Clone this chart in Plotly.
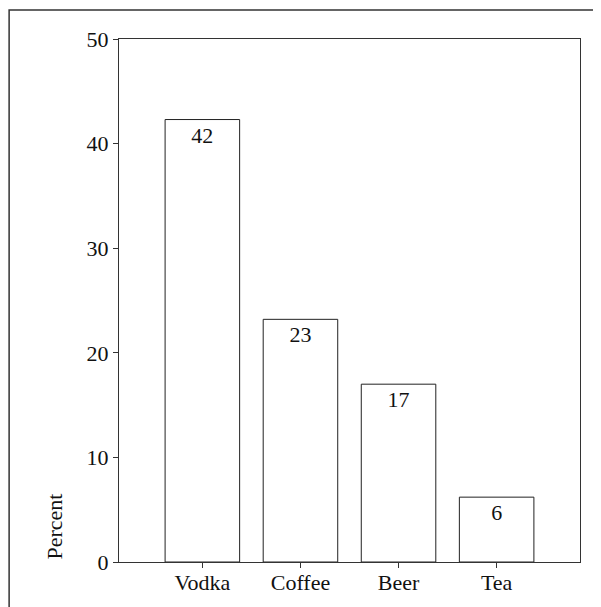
import plotly.graph_objects as go

drinks = ["Vodka", "Coffee", "Beer", "Tea"]
percent = [42.3, 23.2, 17.0, 6.2]
bar_labels = ["42", "23", "17", "6"]

W, H = 601, 607
OFF = 8  # page body margin shifts the figure
L, T = 119 - OFF, 39 - OFF
R = W + OFF - 580.5
B = H + OFF - 562.5
pw, ph = W - L - R, H - T - B

def px_x(p):
    return (p - OFF - L) / pw

def px_y(p):
    return (H - B - (p - OFF)) / ph

serif = "Liberation Serif, Times New Roman, serif"

fig = go.Figure(go.Bar(
    x=drinks, y=percent,
    text=bar_labels, textposition="inside", insidetextanchor="end",
    textfont=dict(family=serif, size=22, color="#111"),
    marker=dict(color="white", line=dict(color="#222", width=1)),
    width=0.76, cliponaxis=False,
))

fig.update_layout(
    width=W, height=H,
    margin=dict(l=L, r=R, t=T, b=B, pad=0),
    plot_bgcolor="white", paper_bgcolor="white",
    font=dict(family=serif, size=22, color="#111"),
    showlegend=False,
)
fig.update_xaxes(
    range=[-0.85, 3.85], showgrid=False, zeroline=False,
    showline=True, linecolor="#333", linewidth=1, mirror=True,
    ticks="outside", ticklen=5, tickcolor="#333", ticklabelstandoff=-4,
)
fig.update_yaxes(
    range=[0, 50], dtick=10, showgrid=False, zeroline=False,
    showline=True, linecolor="#333", linewidth=1, mirror=True,
    ticks="outside", ticklen=5, tickcolor="#333",
)

# y title sits at the bottom of the axis
fig.add_annotation(
    text="Percent", xref="paper", yref="paper",
    x=px_x(53.5), y=0, xanchor="center", yanchor="bottom",
    textangle=-90, showarrow=False, font=dict(family=serif, size=22),
)

# outer frame
fig.add_shape(
    type="rect", xref="paper", yref="paper",
    x0=px_x(9), x1=px_x(640), y0=px_y(640), y1=px_y(10),
    line=dict(color="#333", width=1.5), layer="below",
)

fig.write_html("out.html")
